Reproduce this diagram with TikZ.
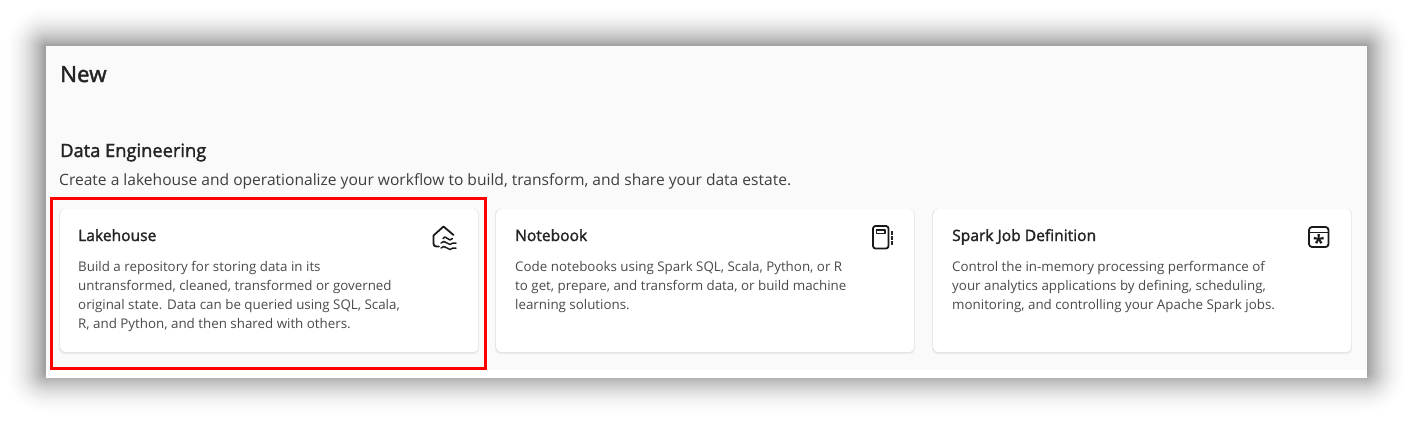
\documentclass[tikz,border=0pt]{standalone}
\usepackage{fontspec}
\setmainfont{Open Sans}
\newfontfamily\semib[FakeBold=1.8]{Open Sans}
\usetikzlibrary{calc}
\definecolor{panelbg}{HTML}{FAFAFA}
\definecolor{inkdark}{HTML}{242424}
\definecolor{inkbody}{HTML}{4A4A4A}
\definecolor{redframe}{HTML}{FF0000}
\tikzset{
  x=1pt,y=-1pt,
  cardbox/.style={draw=none,fill=white,rounded corners=5pt,minimum width=418pt,minimum height=143pt,inner sep=0pt,anchor=north west},
  cardtitle/.style={anchor=base west,inner sep=0pt,font=\semib\fontsize{15.6}{18}\selectfont\color{inkdark}},
  cardbody/.style={anchor=north west,inner sep=0pt,align=left,font=\fontsize{13.35}{18.8}\selectfont\color{inkbody}},
  iconline/.style={draw=black!90,line width=1.8pt,line join=round,line cap=round},
  waveline/.style={draw=black!90,line width=1.5pt,line join=round,line cap=round},
}
\begin{document}
\begin{tikzpicture}
\useasboundingbox (0,0) rectangle (1413,424);
\fill[white] (0,0) rectangle (1413,424);
% outer soft shadow, opaque steps from outside in
\foreach \r in {42,41,...,0}{
  \pgfmathsetmacro{\tone}{40*(1-\r/43)^2}
  \fill[black!\tone!white,rounded corners=\r pt+1pt] (46-\r,47-\r) rectangle (1366+\r,373+\r);
}
% panel
\node[draw=none,fill=panelbg,inner sep=0pt,minimum width=1321pt,minimum height=324pt,anchor=north west] (panel) at (46,46) {};
\fill[white] (46,370) rectangle (1367,378);
% card shadows
\foreach \px in {60,496,933}{
  \foreach \r in {3,2,1}{
    \fill[black,opacity=0.03,rounded corners=5pt] (\px-\r*0.4,209) rectangle (\px+418+\r*0.4,352+\r*0.8);
  }
}
\node[cardbox] (cardA) at (60,209) {};
\node[cardbox] (cardB) at (496,209) {};
\node[cardbox] (cardC) at (933,209) {};
% headings
\node[anchor=base west,inner sep=0pt,font=\semib\fontsize{22.4}{26}\selectfont\color{inkdark}] (newT) at (60,82) {New};
\node[anchor=base west,inner sep=0pt,font=\semib\fontsize{18.3}{22}\selectfont\color{inkdark}] (deT) at (60,157) {Data Engineering};
\node[anchor=base west,inner sep=0pt,font=\fontsize{15.58}{18}\selectfont\color{inkbody!85!black}] (deS) at (59,185) {Create a lakehouse and operationalize your workflow to build, transform, and share your data estate.};
% titles
\node[cardtitle] (tA) at (78,241) {Lakehouse};
\node[cardtitle] (tB) at (515,241) {Notebook};
\node[cardtitle] (tC) at (952,241) {Spark Job Definition};
% bodies
\node[cardbody] (bA) at (78,261.5) {Build a repository for storing data in its\\untransformed, cleaned, transformed or governed\\original state. Data can be queried using SQL, Scala,\\R, and Python, and then shared with others.};
\node[cardbody] (bB) at (515,261.5) {Code notebooks using Spark SQL, Scala, Python, or R\\to get, prepare, and transform data, or build machine\\learning solutions.};
\node[cardbody] (bC) at (952,261.5) {Control the in-memory processing performance of\\your analytics applications by defining, scheduling,\\monitoring, and controlling your Apache Spark jobs.};
% lakehouse icon
\draw[iconline] (439,246.5) -- (436.5,246.5) .. controls (434.5,246.5) and (433.5,245.5) .. (433.5,243.5) -- (433.5,235.5) -- (443.5,226.5) -- (453.5,235);
\draw[waveline] (443,238.5) .. controls (444,236.5) and (446,236.5) .. (447.5,238.5) .. controls (449,240.5) and (451,240.5) .. (452.5,238.5);
\draw[waveline] (441,243) .. controls (442.5,241) and (445,241) .. (447,243) .. controls (449,245) and (451,245) .. (453,243) .. controls (454,242.3) and (455,242.3) .. (456,243);
\draw[waveline] (441,248) .. controls (442.5,246) and (445,246) .. (447,248) .. controls (449,250) and (451,250) .. (453,248) .. controls (454,247.3) and (455,247.3) .. (456,248);
% notebook icon
\draw[iconline,rounded corners=2.5pt] (873,226) rectangle (888.5,248.5);
\draw[iconline,line width=1.4pt] (876.5,230) rectangle (885,233.5);
\fill[black!85] (890.5,231) rectangle (892.5,234.5);
\fill[black!85] (890.5,236) rectangle (892.5,239.5);
\fill[black!85] (890.5,241) rectangle (892.5,244.5);
% spark job icon
\draw[iconline,rounded corners=3pt] (1309,227) rectangle (1328.5,247);
\draw[iconline,line width=1.5pt] (1309,232.5) -- (1328.5,232.5);
\node[inner sep=0pt,font=\fontsize{21}{21}\selectfont\bfseries\color{black!90}] (star) at (1318.8,243) {*};
% red highlight
\draw[redframe,line width=3pt] (51,198) rectangle (485.5,368.5);
\end{tikzpicture}
\end{document}
